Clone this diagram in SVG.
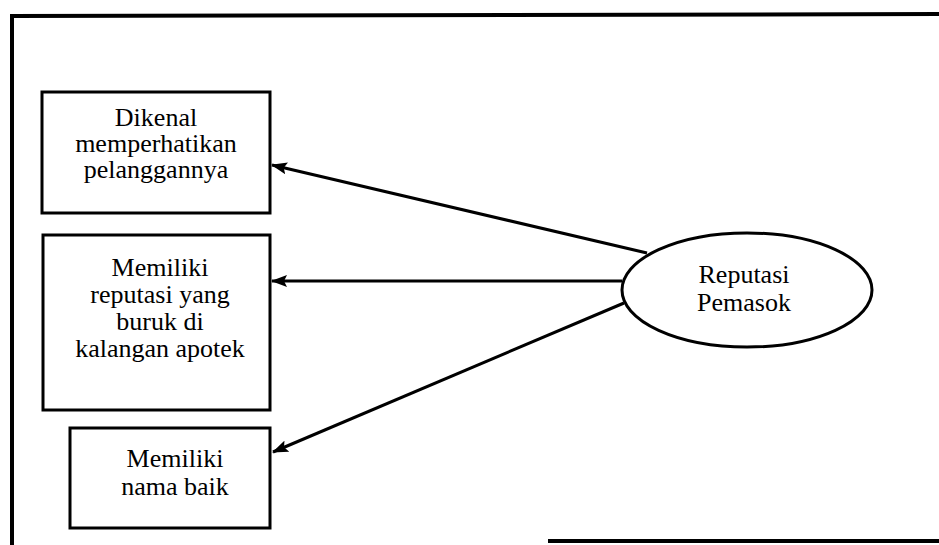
<svg xmlns="http://www.w3.org/2000/svg" width="939" height="545" viewBox="0 0 939 545">
<style>
.box{fill:#fff;stroke:#000;stroke-width:3}
.frame{fill:none;stroke:#000;stroke-width:4}
.conn{stroke:#000;stroke-width:3;fill:none}
.t{font-family:'Liberation Serif','DejaVu Serif',serif;font-size:26px;fill:#000;text-anchor:middle}
</style>
<defs>
<marker id="ah" markerWidth="16" markerHeight="12" refX="15" refY="6" orient="auto" markerUnits="userSpaceOnUse" viewBox="0 0 16 12">
<path d="M0,0 L16,6 L0,12 L3,6 z" fill="#000"/>
</marker>
</defs>
<rect width="939" height="545" fill="#fff"/>
<g id="frame">
<path class="frame" d="M12,545 L12,16 L939,14"/>
<path class="frame" d="M548,541 L939,541"/>
</g>
<g id="node1">
<rect class="box" x="42" y="92" width="228" height="121"/>
<text class="t" font-family="Liberation Serif, serif" x="156" y="126">Dikenal</text>
<text class="t" font-family="Liberation Serif, serif" x="156" y="152">memperhatikan</text>
<text class="t" font-family="Liberation Serif, serif" x="156" y="178">pelanggannya</text>
</g>
<g id="node2">
<rect class="box" x="43" y="235" width="227" height="175"/>
<text class="t" x="160" y="276">Memiliki</text>
<text class="t" x="160" y="303">reputasi yang</text>
<text class="t" x="160" y="330">buruk di</text>
<text class="t" x="160" y="357">kalangan apotek</text>
</g>
<g id="node3">
<rect class="box" x="70" y="428" width="200" height="100"/>
<text class="t" x="175" y="467">Memiliki</text>
<text class="t" x="175" y="495">nama baik</text>
</g>
<g id="node4">
<ellipse class="box" cx="747" cy="290" rx="125" ry="57"/>
<text class="t" x="744" y="283">Reputasi</text>
<text class="t" x="744" y="311">Pemasok</text>
</g>
<g id="connectors">
<line class="conn" x1="647" y1="253" x2="272" y2="165" marker-end="url(#ah)"/>
<line class="conn" x1="622" y1="281" x2="272" y2="281" marker-end="url(#ah)"/>
<line class="conn" x1="624" y1="303" x2="273" y2="452" marker-end="url(#ah)"/>
</g>
</svg>
